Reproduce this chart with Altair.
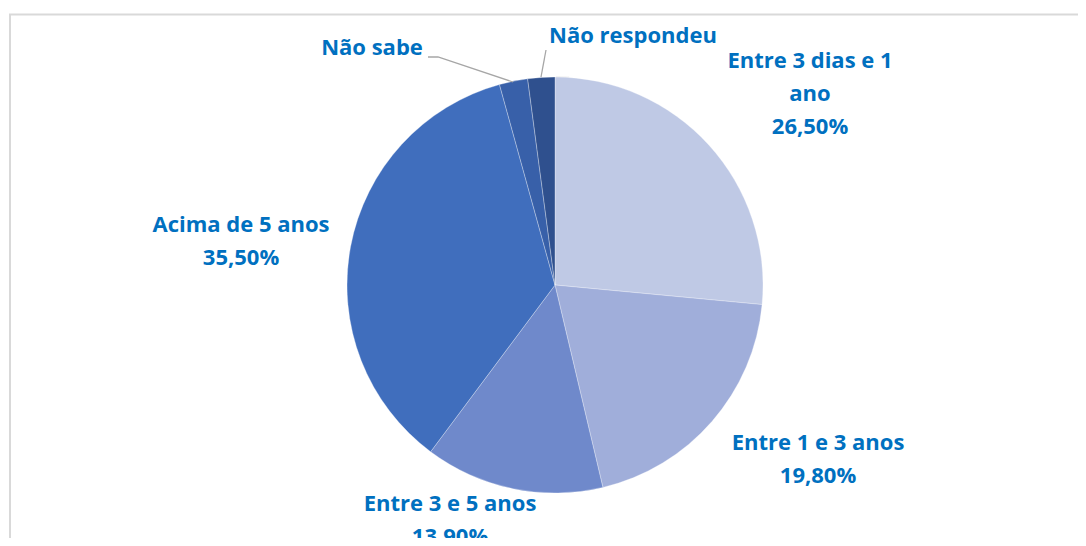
import altair as alt
import pandas as pd

categories = ["Entre 3 dias e 1 ano", "Entre 1 e 3 anos", "Entre 3 e 5 anos",
              "Acima de 5 anos", "Não sabe", "Não respondeu"]
values = [26.5, 19.8, 13.9, 35.5, 2.2, 2.1]
colors = ["#BFC9E5", "#A0AEDA", "#6F89CB", "#406EBD", "#3860A9", "#2F508E"]

label_lines = [["Entre 3 dias e 1", "ano", "26,50%"],
               ["Entre 1 e 3 anos", "19,80%"],
               ["Entre 3 e 5 anos", "13,90%"],
               ["Acima de 5 anos", "35,50%"],
               ["Não sabe"],
               ["Não respondeu"]]
# label anchor (centre of first line) in chart pixels -- layout only
label_x = [802, 810, 442, 233, 364, 625]
label_y = [53, 435, 496, 217, 40, 28]

W, H = 1070, 530
CX, CY, R = 547, 277, 208
LBL = "#0070C0"

df = pd.DataFrame({"cat": categories, "val": values, "order": list(range(len(values)))})

pie = alt.Chart(df).mark_arc(outerRadius=R, stroke="white", strokeWidth=0.6, strokeOpacity=0.5).encode(
    theta=alt.Theta("val:Q", stack=True),
    order=alt.Order("order:Q"),
    color=alt.Color("cat:N", scale=alt.Scale(domain=categories, range=colors), legend=None),
    x=alt.value(CX), y=alt.value(CY),
)

shadow = alt.Chart(pd.DataFrame({"v": [1]})).mark_arc(
    outerRadius=R + 3, innerRadius=R - 2, color="#000000", opacity=0.06
).encode(theta=alt.Theta("v:Q"), x=alt.value(CX + 1), y=alt.value(CY + 2))

lab_df = pd.DataFrame({"text": label_lines, "lx": label_x, "ly": label_y})
labels = alt.Chart(lab_df).mark_text(
    font="Open Sans", fontWeight="bold", fontSize=22, color=LBL, align="center",
    baseline="middle", lineHeight=33
).encode(
    x=alt.X("lx:Q", scale=None), y=alt.Y("ly:Q", scale=None), text="text"
)

lead = pd.DataFrame({
    "g": ["a", "a", "a", "b", "b"],
    "i": [0, 1, 2, 0, 1],
    "px": [420, 430, 505, 538, 533],
    "py": [49, 49, 74, 42, 69],
})
leaders = alt.Chart(lead).mark_line(color="#A6A6A6", strokeWidth=1.3).encode(
    x=alt.X("px:Q", scale=None), y=alt.Y("py:Q", scale=None),
    detail="g:N", order="i:Q"
)

border = pd.DataFrame({"x": [2, 2, 1200], "y": [700, 6.5, 6.5], "i": [0, 1, 2]})
frame = alt.Chart(border).mark_line(color="#D9D9D9", strokeWidth=2).encode(
    x=alt.X("x:Q", scale=None), y=alt.Y("y:Q", scale=None), order="i:Q"
)

chart = alt.layer(frame, shadow, pie, leaders, labels).properties(
    width=W, height=H, autosize=alt.AutoSizeParams(type="none"), padding=0
).configure_view(stroke=None)

chart.save("out.html", embed_options={"renderer": "svg", "actions": False})
